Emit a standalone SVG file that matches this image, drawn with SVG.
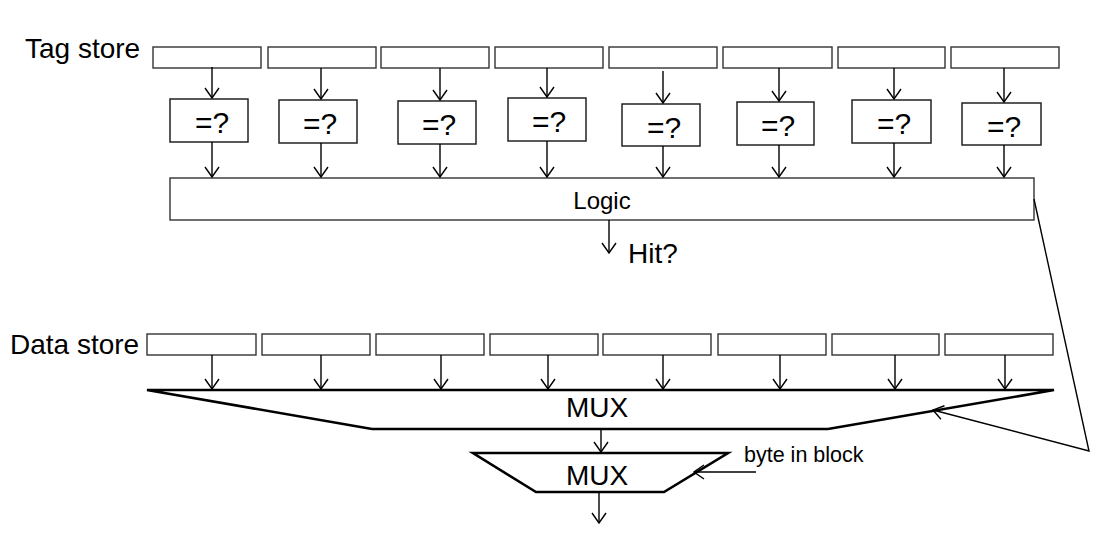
<svg xmlns="http://www.w3.org/2000/svg" width="1116" height="538" viewBox="0 0 1116 538">
<defs>
<marker id="ah" viewBox="0 0 12 16" refX="11" refY="8" markerWidth="12" markerHeight="16" markerUnits="userSpaceOnUse" orient="auto">
<path d="M1,1 L11,8 L1,15" fill="none" stroke="#000" stroke-width="1.4"/>
</marker>
<style>
.box{fill:#fff;stroke:#333;stroke-width:1.4}
.cmp{fill:#fff;stroke:#222;stroke-width:1.5}
.mux{fill:#fff;stroke:#000;stroke-width:2.6;stroke-linejoin:miter}
.ca{fill:none;stroke:#000;stroke-width:1.4;marker-end:url(#ah)}
text{font-family:"Liberation Sans",Arial,sans-serif;fill:#000}
.t28{font-size:28px}
.eq{font-size:30px;text-anchor:middle}
</style>
</defs>
<rect width="1116" height="538" fill="#fff"/>
<g id="labels">
<text x="25" y="58" font-size="28">Tag store</text>
<text x="10" y="354" font-size="28">Data store</text>
</g>
<g id="tag-store">
<rect class="box" x="153" y="47" width="108" height="21"/>
<rect class="box" x="268" y="47" width="108" height="21"/>
<rect class="box" x="381" y="47" width="108" height="21"/>
<rect class="box" x="495" y="47" width="108" height="21"/>
<rect class="box" x="609" y="47" width="108" height="21"/>
<rect class="box" x="723" y="47" width="109" height="21"/>
<rect class="box" x="838" y="47" width="107" height="21"/>
<rect class="box" x="951" y="47" width="108" height="21"/>
</g>
<g id="cmp1"><rect class="cmp" x="170" y="99" width="78" height="43"/><text class="eq" x="212" y="133">=?</text></g>
<g id="cmp2"><rect class="cmp" x="279" y="100" width="78" height="43"/><text class="eq" x="320" y="134">=?</text></g>
<g id="cmp3"><rect class="cmp" x="398" y="101" width="78" height="43"/><text class="eq" x="439" y="135">=?</text></g>
<g id="cmp4"><rect class="cmp" x="508" y="98" width="78" height="43"/><text class="eq" x="549" y="132">=?</text></g>
<g id="cmp5"><rect class="cmp" x="622" y="104" width="78" height="42"/><text class="eq" x="664" y="138">=?</text></g>
<g id="cmp6"><rect class="cmp" x="737" y="102" width="77" height="43"/><text class="eq" x="778" y="136">=?</text></g>
<g id="cmp7"><rect class="cmp" x="852" y="100" width="79" height="43"/><text class="eq" x="894" y="134">=?</text></g>
<g id="cmp8"><rect class="cmp" x="962" y="103" width="79" height="42"/><text class="eq" x="1004" y="137">=?</text></g>
<g id="logic">
<rect class="box" x="170" y="178" width="864" height="42"/>
<text x="602" y="209" font-size="24" text-anchor="middle">Logic</text>
</g>
<g id="hit"><text x="628" y="263" font-size="28">Hit?</text></g>
<g id="data-store">
<rect class="box" x="147" y="334" width="109" height="21"/>
<rect class="box" x="262" y="334" width="108" height="21"/>
<rect class="box" x="376" y="334" width="108" height="21"/>
<rect class="box" x="490" y="334" width="108" height="21"/>
<rect class="box" x="603" y="334" width="108" height="21"/>
<rect class="box" x="718" y="334" width="108" height="21"/>
<rect class="box" x="832" y="334" width="107" height="21"/>
<rect class="box" x="945" y="334" width="108" height="21"/>
</g>
<g id="mux1">
<path class="mux" d="M147,390 L1054,390 L828,429 L372,429 Z"/>
<text class="t28" x="597" y="417" text-anchor="middle">MUX</text>
</g>
<g id="mux2">
<path class="mux" d="M473,453 L728,453 L664,492 L536,492 Z"/>
<text class="t28" x="597" y="485" text-anchor="middle">MUX</text>
</g>
<g id="byte-label"><text x="744" y="462" font-size="21.5">byte in block</text></g>
<g id="connectors">
<path class="ca" d="M212,67 V98"/>
<path class="ca" d="M321,68 V99"/>
<path class="ca" d="M440,68 V100"/>
<path class="ca" d="M547,68 V97"/>
<path class="ca" d="M663,71 V103"/>
<path class="ca" d="M779,68 V101"/>
<path class="ca" d="M894,68 V99"/>
<path class="ca" d="M1004,68 V102"/>
<path class="ca" d="M212,142 V177"/>
<path class="ca" d="M321,143 V177"/>
<path class="ca" d="M440,144 V177"/>
<path class="ca" d="M547,141 V177"/>
<path class="ca" d="M663,146 V177"/>
<path class="ca" d="M779,145 V177"/>
<path class="ca" d="M894,143 V177"/>
<path class="ca" d="M1004,145 V177"/>
<path class="ca" d="M609,220 V253"/>
<path class="ca" d="M212,355 V389"/>
<path class="ca" d="M321,355 V389"/>
<path class="ca" d="M441,355 V389"/>
<path class="ca" d="M548,355 V389"/>
<path class="ca" d="M663,355 V389"/>
<path class="ca" d="M780,355 V389"/>
<path class="ca" d="M895,355 V389"/>
<path class="ca" d="M1005,355 V389"/>
<path class="ca" d="M1034,199 L1089,451 L933,410"/>
<path class="ca" d="M601,430 V452"/>
<path class="ca" d="M756,472 H694"/>
<path class="ca" d="M599,493 V523"/>
</g>
</svg>
